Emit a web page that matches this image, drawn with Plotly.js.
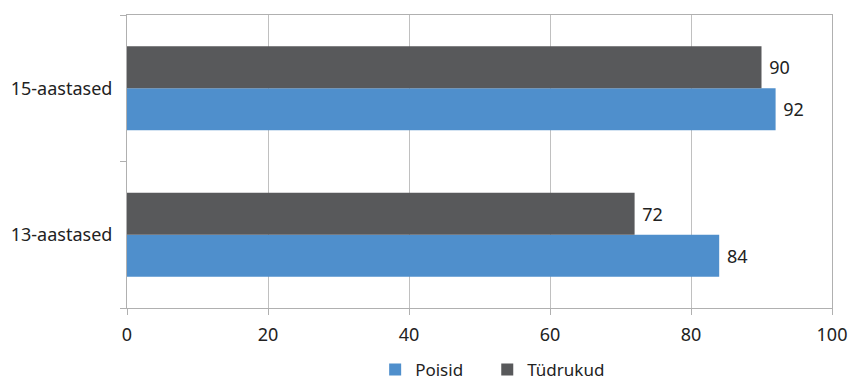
<!DOCTYPE html>
<html>
<head>
<meta charset="utf-8">
<script src="https://cdn.plot.ly/plotly-3.0.1.min.js"></script>
<style>html,body{margin:0;padding:0;background:#fff;}#chart{width:854px;height:385px;}</style>
</head>
<body>
<div id="chart"></div>
<script>
const categories = ['13-aastased', '15-aastased'];
const poisid = [84, 92];
const tydrukud = [72, 90];
const seriesNames = ['Poisid', 'Tüdrukud'];
const xTicks = [0, 20, 40, 60, 80, 100];

const font = {family: 'Noto Sans, Open Sans, sans-serif', size: 18, color: '#222'};
const legendFont = {family: 'Noto Sans, Open Sans, sans-serif', size: 17, color: '#222'};

const traces = [
  {type: 'bar', orientation: 'h', name: seriesNames[0], y: categories, x: poisid,
   marker: {color: '#4f8fcc'}, texttemplate: ' %{x}', textposition: 'outside',
   textfont: font, cliponaxis: false, hoverinfo: 'x+name', legend: 'legend'},
  {type: 'bar', orientation: 'h', name: seriesNames[1], y: categories, x: tydrukud,
   marker: {color: '#58595b'}, texttemplate: ' %{x}', textposition: 'outside',
   textfont: font, cliponaxis: false, hoverinfo: 'x+name', legend: 'legend2'}
];

const legendBase = {orientation: 'h', yanchor: 'top', y: -0.15, xanchor: 'left',
                    font: legendFont, itemwidth: 30};

const layout = {
  width: 854, height: 385,
  margin: {l: 127, r: 22, t: 15, b: 77, autoexpand: false},
  paper_bgcolor: '#fff', plot_bgcolor: '#fff',
  font: font,
  barmode: 'group', bargap: 0.426, bargroupgap: 0,
  xaxis: {range: [0, 100], tickvals: xTicks, ticktext: xTicks.map(String),
          showgrid: true, gridcolor: '#c0c0c0', gridwidth: 1,
          showline: true, linecolor: '#b0b0b0', linewidth: 1, mirror: true,
          ticks: 'outside', ticklen: 6, tickcolor: '#b0b0b0', zeroline: false,
          tickfont: font, ticklabelstandoff: 4, fixedrange: true, automargin: false},
  yaxis: {type: 'category', categoryorder: 'array', categoryarray: categories,
          tickson: 'boundaries', ticks: 'outside', ticklen: 6, tickcolor: '#b0b0b0',
          showline: true, linecolor: '#b0b0b0', linewidth: 1, mirror: true,
          showgrid: false, tickfont: font, ticklabelstandoff: 10, fixedrange: true,
          automargin: false},
  legend: Object.assign({}, legendBase, {x: 0.352}),
  legend2: Object.assign({}, legendBase, {x: 0.511}),
  showlegend: true
};

Plotly.newPlot('chart', traces, layout, {displayModeBar: false, staticPlot: true});
</script>
</body>
</html>
